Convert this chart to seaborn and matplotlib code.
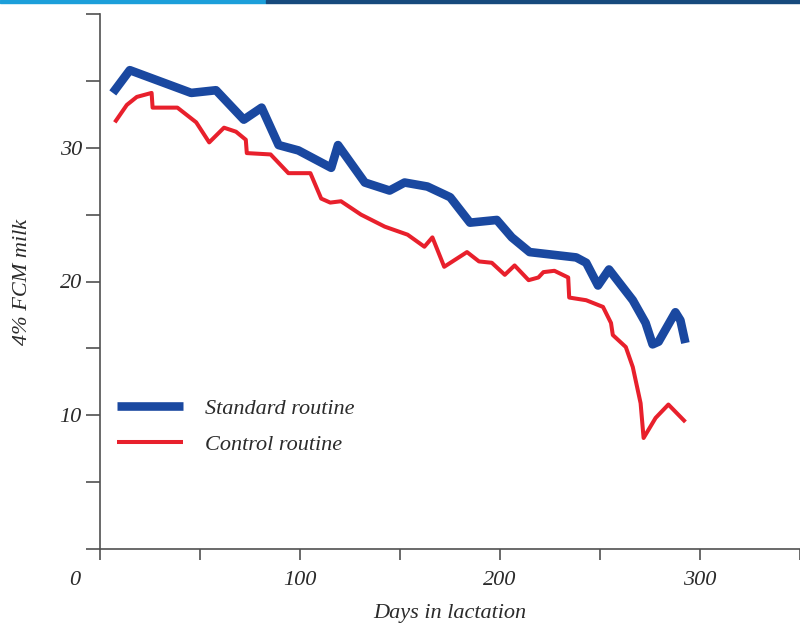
import matplotlib
matplotlib.use("Agg")
import matplotlib.pyplot as plt
import matplotlib.transforms as mtransforms
import seaborn as sns
import pandas as pd

# ---- data ----
std_days = [6.4, 14.9, 45.6, 58.0, 71.9, 80.8, 89.3, 99.2, 115.6, 119.0, 132.4,
            144.8, 152.3, 163.7, 175.1, 185.0, 198.4, 205.9, 214.8, 238.1, 243.1,
            249.0, 254.5, 266.4, 272.8, 276.3, 279.3, 287.7, 290.2, 292.7]
std_milk = [34.1, 35.8, 34.1, 34.3, 32.1, 33.0, 30.2, 29.8, 28.5, 30.2, 27.4,
            26.8, 27.4, 27.1, 26.3, 24.4, 24.6, 23.3, 22.2, 21.8, 21.4,
            19.7, 20.9, 18.6, 16.9, 15.3, 15.5, 17.7, 17.1, 15.4]

ctl_days = [7.4, 13.4, 18.4, 25.8, 26.3, 38.7, 48.1, 54.6, 62.0, 68.0, 72.9,
            73.4, 85.3, 94.2, 105.2, 110.6, 115.1, 120.5, 130.5, 142.4, 153.8,
            162.2, 166.2, 172.1, 183.5, 189.5, 195.9, 202.4, 207.3, 214.3, 219.2,
            221.7, 227.2, 234.1, 234.6, 243.1, 251.5, 255.5, 256.4, 262.9, 266.4,
            270.3, 271.8, 277.8, 284.2, 292.7]
ctl_milk = [31.9, 33.2, 33.8, 34.1, 33.0, 33.0, 31.9, 30.4, 31.5, 31.2, 30.6,
            29.6, 29.5, 28.1, 28.1, 26.2, 25.9, 26.0, 25.0, 24.1, 23.5,
            22.6, 23.3, 21.1, 22.2, 21.5, 21.4, 20.5, 21.2, 20.1, 20.3,
            20.7, 20.8, 20.3, 18.8, 18.6, 18.1, 16.9, 16.0, 15.1, 13.6,
            10.9, 8.3, 9.8, 10.8, 9.5]

series_names = ["Standard routine", "Control routine"]
x_ticks = [0, 50, 100, 150, 200, 250, 300, 350]
x_ticklabels = ["0", "", "100", "", "200", "", "300", ""]
y_ticks = [0, 5, 10, 15, 20, 25, 30, 35, 40]
y_ticklabels = ["", "", "10", "", "20", "", "30", "", ""]

# ---- style ----
sns.set_style("white")
plt.rcParams["font.family"] = ["Liberation Serif", "DejaVu Serif"]
plt.rcParams["font.style"] = "italic"

TXT = "#2b2b2b"
AX = "#505050"
BLUE = "#1a48a0"
RED = "#e8202c"
FS = 16

fig = plt.figure(figsize=(8, 6.25), dpi=100)
ax = fig.add_axes([100 / 800, 76 / 625, 700 / 800, (549 - 14) / 625])

std_df = pd.DataFrame({"day": std_days, "milk": std_milk})
ctl_df = pd.DataFrame({"day": ctl_days, "milk": ctl_milk})

sns.lineplot(data=std_df, x="day", y="milk", ax=ax, color=BLUE, linewidth=6.2,
             sort=False, estimator=None, label=series_names[0])
sns.lineplot(data=ctl_df, x="day", y="milk", ax=ax, color=RED, linewidth=2.9,
             sort=False, estimator=None, label=series_names[1])
for ln in ax.get_lines():
    ln.set_solid_joinstyle("round")
    ln.set_solid_capstyle("butt")

ax.set_xlim(0, 700 / 2.016)
ax.set_ylim(0, 40)
ax.set_xticks(x_ticks)
ax.set_xticklabels(x_ticklabels)
ax.set_yticks(y_ticks)
ax.set_yticklabels(y_ticklabels)

for s in ["top", "right"]:
    ax.spines[s].set_visible(False)
for s in ["left", "bottom"]:
    ax.spines[s].set_color(AX)
    ax.spines[s].set_linewidth(1.2)

ax.tick_params(axis="x", direction="out", length=8, width=1.2, color=AX,
               pad=8, labelsize=FS, labelcolor=TXT, bottom=True)
ax.tick_params(axis="y", direction="out", length=10, width=1.2, color=AX,
               pad=3, labelsize=FS, labelcolor=TXT, left=True)

# shift the "0" label into the corner
lbl0 = ax.get_xticklabels()[0]
lbl0.set_transform(lbl0.get_transform() +
                   mtransforms.ScaledTranslation(-25 / 100, 0, fig.dpi_scale_trans))

ax.set_xlabel("Days in lactation", fontsize=FS, color=TXT, labelpad=10)
ax.set_ylabel("4% FCM milk", fontsize=FS, color=TXT, labelpad=20)

leg = ax.legend(loc="upper left", bbox_to_anchor=(117 / 800, 1 - 398 / 625),
                bbox_transform=fig.transFigure, frameon=False, fontsize=FS,
                handlelength=2.97, handletextpad=1.0, labelspacing=0.72,
                borderpad=0, borderaxespad=0)
for t in leg.get_texts():
    t.set_color(TXT)
leg.get_lines()[0].set_linewidth(6.2)
leg.get_lines()[1].set_linewidth(2.9)

# top colour band
fig.patches.append(plt.Rectangle((0, 1 - 3 / 625), 266 / 800, 3 / 625,
                                 transform=fig.transFigure, color="#1c9fda", zorder=10))
fig.patches.append(plt.Rectangle((266 / 800, 1 - 3 / 625), 534 / 800, 3 / 625,
                                 transform=fig.transFigure, color="#174a7d", zorder=10))

fig.savefig("out.png", dpi=100)
